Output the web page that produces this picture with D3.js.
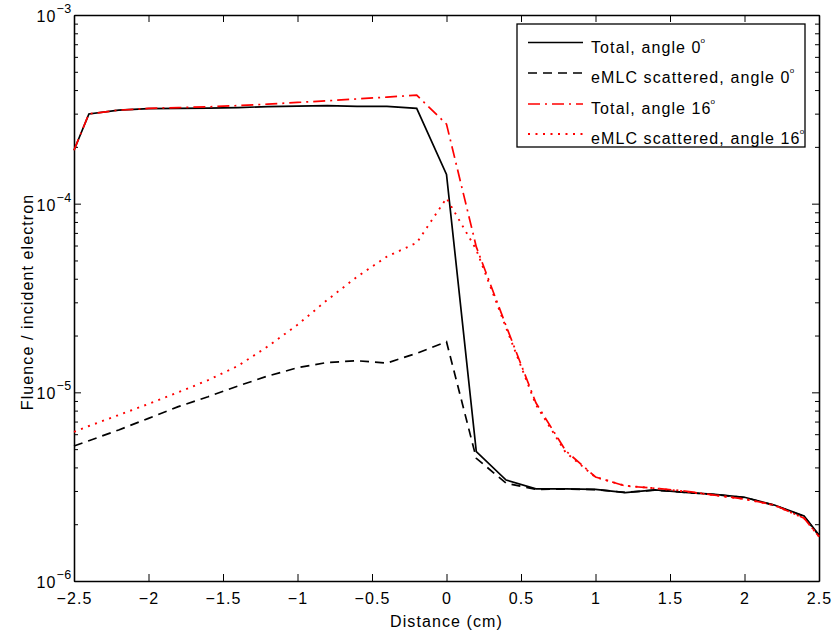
<!DOCTYPE html>
<html>
<head>
<meta charset="utf-8">
<script src="https://cdn.jsdelivr.net/npm/d3@7"></script>
<style>
  body { margin: 0; background: #fff; }
  text { font-family: "Liberation Sans", Arial, sans-serif; fill: #000; }
</style>
</head>
<body>
<svg class="fluence" width="835" height="634"></svg>
<script>
"use strict";

var width  = 835,
    height = 634;

// data
var distance = [-2.5, -2.4, -2.2, -2.0, -1.8, -1.6, -1.4, -1.2, -1.0, -0.8, -0.6, -0.4, -0.2, 0,
                0.2, 0.4, 0.6, 0.8, 1.0, 1.2, 1.4, 1.6, 1.8, 2.0, 2.2, 2.4, 2.5];

var total0   = [1.92e-4, 2.99e-4, 3.13e-4, 3.19e-4, 3.20e-4, 3.21e-4, 3.23e-4, 3.27e-4, 3.29e-4, 3.31e-4, 3.28e-4, 3.28e-4, 3.20e-4, 1.43e-4,
                4.85e-6, 3.43e-6, 3.08e-6, 3.08e-6, 3.06e-6, 2.94e-6, 3.04e-6, 2.95e-6, 2.88e-6, 2.78e-6, 2.53e-6, 2.21e-6, 1.75e-6];
var scatter0 = [5.19e-6, 5.54e-6, 6.32e-6, 7.28e-6, 8.40e-6, 9.48e-6, 1.08e-5, 1.22e-5, 1.35e-5, 1.44e-5, 1.47e-5, 1.43e-5, 1.61e-5, 1.855e-5,
                4.47e-6, 3.30e-6, 3.06e-6, 3.07e-6, 3.05e-6, 2.95e-6, 3.03e-6, 2.95e-6, 2.87e-6, 2.77e-6, 2.52e-6, 2.20e-6, 1.74e-6];
var total16  = [1.92e-4, 2.99e-4, 3.13e-4, 3.20e-4, 3.23e-4, 3.26e-4, 3.31e-4, 3.37e-4, 3.44e-4, 3.51e-4, 3.59e-4, 3.67e-4, 3.76e-4, 2.64e-4,
                5.9e-5, 2.25e-5, 8.8e-6, 4.9e-6, 3.56e-6, 3.19e-6, 3.10e-6, 3.00e-6, 2.85e-6, 2.72e-6, 2.53e-6, 2.15e-6, 1.72e-6];
var scatter16 = [6.18e-6, 6.63e-6, 7.58e-6, 8.68e-6, 1.0e-5, 1.16e-5, 1.38e-5, 1.75e-5, 2.28e-5, 3.09e-5, 4.1e-5, 5.24e-5, 6.2e-5, 1.07e-4,
                5.7e-5, 2.2e-5, 8.6e-6, 4.8e-6, 3.55e-6, 3.2e-6, 3.1e-6, 2.98e-6, 2.85e-6, 2.72e-6, 2.52e-6, 2.15e-6, 1.72e-6];

var xTicks = [-2.5, -2, -1.5, -1, -0.5, 0, 0.5, 1, 1.5, 2, 2.5];
var yMajor = [1e-6, 1e-5, 1e-4, 1e-3];
var yExps  = ["\u22126", "\u22125", "\u22124", "\u22123"];
var yMinor = [2e-6, 3e-6, 4e-6, 5e-6, 6e-6, 7e-6, 8e-6, 9e-6,
              2e-5, 3e-5, 4e-5, 5e-5, 6e-5, 7e-5, 8e-5, 9e-5,
              2e-4, 3e-4, 4e-4, 5e-4, 6e-4, 7e-4, 8e-4, 9e-4];

var legendLabels = ["Total, angle 0", "eMLC scattered, angle 0", "Total, angle 16", "eMLC scattered, angle 16"];

var series = [
    {values: total0,    color: "#000", dash: null,       w: 1.7},
    {values: scatter0,  color: "#000", dash: "9,6",      w: 1.7},
    {values: total16,   color: "#f00", dash: "12,5,2,5", w: 1.7},
    {values: scatter16, color: "#f00", dash: "2,5.5",    w: 1.9}
];

var fontSize = "16px",
    spacing  = "1.1px";

var plotL = 74, plotR = 819, plotT = 15, plotB = 581;

var chart = d3.select(".fluence");

var x = d3.scaleLinear().domain([-2.5, 2.5]).range([plotL, plotR]);
var y = d3.scaleLog().domain([1e-6, 1e-3]).range([plotB, plotT]);

function fmtX(d) {
    return d < 0 ? "\u2212" + Math.abs(d) : String(d);
}

// axes
function styleAxis(g) {
    g.selectAll("path.domain").attr("stroke", "#000").attr("stroke-width", 1.3);
    g.selectAll(".tick line").attr("stroke", "#000").attr("stroke-width", 1);
}

var gx = chart.append("g")
    .attr("transform", "translate(0," + plotB + ")")
    .call(d3.axisBottom(x).tickValues(xTicks).tickSizeInner(-7).tickSizeOuter(0)
        .tickPadding(16).tickFormat(fmtX));
gx.call(styleAxis);
gx.selectAll("text")
    .attr("font-size", fontSize)
    .attr("letter-spacing", spacing)
    .attr("font-family", "Liberation Sans, Arial, sans-serif")
    .attr("y", 23)
    .attr("dy", 0);

chart.append("g")
    .attr("transform", "translate(0," + plotT + ")")
    .call(d3.axisTop(x).tickValues(xTicks).tickSizeInner(-7).tickSizeOuter(0).tickFormat(""))
    .call(styleAxis);

chart.append("g")
    .attr("transform", "translate(" + plotL + ",0)")
    .call(d3.axisLeft(y).tickValues(yMajor).tickSizeInner(-7).tickSizeOuter(0).tickFormat(""))
    .call(styleAxis);

chart.append("g")
    .attr("transform", "translate(" + plotL + ",0)")
    .call(d3.axisLeft(y).tickValues(yMinor).tickSizeInner(-4).tickSizeOuter(0).tickFormat(""))
    .call(styleAxis);

chart.append("g")
    .attr("transform", "translate(" + plotR + ",0)")
    .call(d3.axisRight(y).tickValues(yMajor).tickSizeInner(-7).tickSizeOuter(0).tickFormat(""))
    .call(styleAxis);

chart.append("g")
    .attr("transform", "translate(" + plotR + ",0)")
    .call(d3.axisRight(y).tickValues(yMinor).tickSizeInner(-4).tickSizeOuter(0).tickFormat(""))
    .call(styleAxis);

// y tick labels: 10 with superscript exponent
var yLab = chart.append("g").attr("class", "ylabels")
    .selectAll("text")
    .data(yMajor)
    .enter()
    .append("text")
        .attr("text-anchor", "end")
        .attr("x", 71.5)
        .attr("y", function(d) { return y(d) + 7; })
        .attr("font-size", fontSize)
        .attr("letter-spacing", spacing);
yLab.append("tspan").text("10");
yLab.append("tspan")
    .attr("dy", -9)
    .attr("font-size", "12.5px")
    .attr("letter-spacing", "0.4px")
    .text(function(d, i) { return yExps[i]; });

// axis titles
chart.append("text")
    .attr("x", (plotL + plotR) / 2)
    .attr("y", 626.5)
    .attr("text-anchor", "middle")
    .attr("font-size", fontSize)
    .attr("letter-spacing", spacing)
    .text("Distance (cm)");

chart.append("text")
    .attr("transform", "translate(32.5," + 302 + ") rotate(-90)")
    .attr("text-anchor", "middle")
    .attr("font-size", fontSize)
    .attr("letter-spacing", spacing)
    .text("Fluence / incident electron");

// lines
var line = d3.line()
    .x(function(d) { return x(d[0]); })
    .y(function(d) { return y(d[1]); });

var plot = chart.append("g").attr("class", "lines");
series.forEach(function(s) {
    plot.append("path")
        .datum(d3.zip(distance, s.values))
        .attr("d", line)
        .attr("fill", "none")
        .attr("stroke", s.color)
        .attr("stroke-width", s.w)
        .attr("stroke-dasharray", s.dash);
});

// legend
var legend = chart.append("g").attr("class", "legend");
legend.append("rect")
    .attr("x", 517).attr("y", 24)
    .attr("width", 288).attr("height", 123)
    .attr("fill", "#fff")
    .attr("stroke", "#000")
    .attr("stroke-width", 1.3);

var rowY = [42.5, 73, 104, 134];
var item = legend.selectAll("g.item")
    .data(series)
    .enter()
    .append("g")
        .attr("class", "item")
        .attr("transform", function(d, i) { return "translate(0," + rowY[i] + ")"; });

item.append("line")
    .attr("x1", 528).attr("x2", 583)
    .attr("stroke", function(d) { return d.color; })
    .attr("stroke-width", function(d) { return d.w; })
    .attr("stroke-dasharray", function(d) { return d.dash; });

var lt = item.append("text")
    .attr("x", 591)
    .attr("y", 10)
    .attr("font-size", fontSize)
    .attr("letter-spacing", spacing);
lt.append("tspan").text(function(d, i) { return legendLabels[i]; });
lt.append("tspan")
    .attr("dy", -10)
    .attr("dx", -1)
    .attr("font-size", "8px")
    .text("o");
</script>
</body>
</html>
